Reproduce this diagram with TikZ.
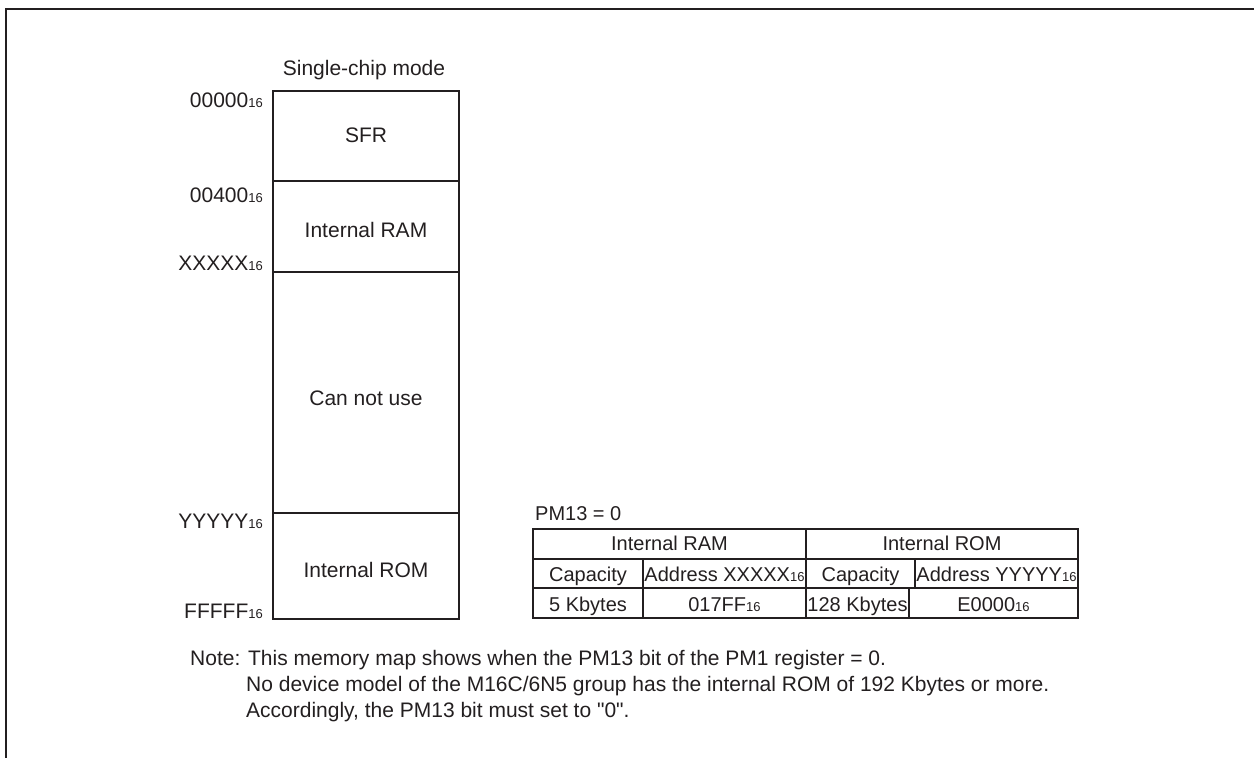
\documentclass[tikz,border=0pt]{standalone}
\usepackage{fontspec}
\setmainfont{Liberation Sans}
% same family without the TeX input mapping, so " stays a straight quote
\newfontfamily\plainsans{Liberation Sans}
\definecolor{ink}{HTML}{231F20}
% hexadecimal radix, set small on the baseline
\newcommand{\hexs}[1]{{\fontsize{13}{13}\selectfont #1}}
\begin{document}
\begin{tikzpicture}[x=1pt,y=-1pt,
  lbl/.style={font=\plainsans\fontsize{21}{25}\selectfont, text=ink, inner sep=0pt},
  tbl/.style={font=\plainsans\fontsize{20}{24}\selectfont, text=ink, inner sep=0pt, anchor=base},
  addr/.style={lbl, anchor=base east},
  rule/.style={draw=ink, line width=2pt}]
\useasboundingbox (0,0) rectangle (1254,758);

% outer frame (open at right and bottom)
\draw[rule] (6,760) -- (6,8.5) -- (1256,8.5);

% memory map
\node[lbl, anchor=base] (mode) at (364,75) {Single-chip mode};
\draw[rule] (273,91) rectangle (459,619);
\draw[rule] (273,181) -- (459,181);
\draw[rule] (273,272) -- (459,272);
\draw[rule] (273,513) -- (459,513);
\node[lbl, anchor=base] (sfr) at (366,142) {SFR};
\node[lbl, anchor=base] (ram) at (366,237) {Internal RAM};
\node[lbl, anchor=base] (nouse) at (366,405) {Can not use};
\node[lbl, anchor=base] (rom) at (366,577) {Internal ROM};

% addresses
\node[addr] (a0) at (263,107) {00000\hexs{16}};
\node[addr] (a1) at (263,202) {00400\hexs{16}};
\node[addr] (a2) at (263,270) {XXXXX\hexs{16}};
\node[addr] (a3) at (263,528) {YYYYY\hexs{16}};
\node[addr] (a4) at (263,618) {FFFFF\hexs{16}};

% PM13 table
\node[tbl, anchor=base west] (pm) at (535,520) {PM13 = 0};
\draw[rule] (533,529) rectangle (1078,618);
\draw[rule] (533,558.5) -- (1078,558.5);
\draw[rule] (533,588) -- (1078,588);
\draw[rule] (806,529) -- (806,618);
\draw[rule] (643,558.5) -- (643,618);
\draw[rule] (915,558.5) -- (915,588);
\draw[rule] (909,588) -- (909,618);
\node[tbl] (hram) at (669.5,550) {Internal RAM};
\node[tbl] (hrom) at (942,550) {Internal ROM};
\node[tbl] (c1) at (588,581) {Capacity};
\node[tbl] (c2) at (724.5,581) {Address XXXXX\hexs{16}};
\node[tbl] (c3) at (860.5,581) {Capacity};
\node[tbl] (c4) at (996.5,581) {Address YYYYY\hexs{16}};
\node[tbl] (v1) at (588,611) {5 Kbytes};
\node[tbl] (v2) at (724.5,611) {017FF\hexs{16}};
\node[tbl] (v3) at (857.5,611) {128 Kbytes};
\node[tbl] (v4) at (993.5,611) {E0000\hexs{16}};

% note
\node[lbl, anchor=base west] (n1) at (190,665) {Note: This memory map shows when the PM13 bit of the PM1 register = 0.};
\node[lbl, anchor=base west] (n2) at (246,691) {No device model of the M16C/6N5 group has the internal ROM of 192 Kbytes or more.};
\node[lbl, anchor=base west] (n3) at (246,717) {Accordingly, the PM13 bit must set to "0".};
\end{tikzpicture}
\end{document}
